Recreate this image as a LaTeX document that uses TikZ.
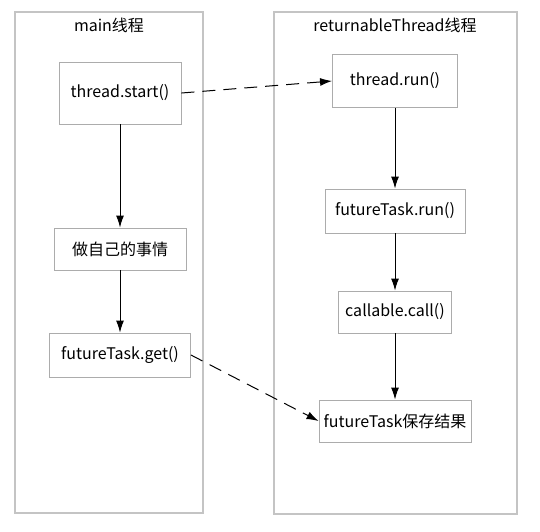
\documentclass[tikz,border=0pt]{standalone}
\usepackage{fontspec}
\setmainfont{Noto Sans CJK SC}
\usetikzlibrary{positioning,arrows.meta}
\definecolor{lanegray}{HTML}{C4C4C4}
\definecolor{boxgray}{HTML}{ACACAC}
\tikzset{
  lane/.style={draw=lanegray,line width=1.1pt,inner sep=0pt},
  title/.style={inner sep=0pt},
  box/.style={draw=boxgray,line width=0.9pt,minimum height=42pt,inner sep=0pt},
  flow/.style={->,line width=1pt},
  call/.style={->,line width=1pt,dash pattern=on 13pt off 8pt}
}
\begin{document}
\begin{tikzpicture}[x=1pt,y=-1pt,>={Latex[length=12pt,width=8pt]},on grid,
  font=\fontsize{16}{19}\selectfont]
\useasboundingbox (0,0) rectangle (540,531);
% lanes
\node[lane,minimum width=188pt,minimum height=501pt] (mainlane) at (109,262.5) {};
\node[lane,minimum width=243pt,minimum height=502pt] (worklane) at (395.5,263) {};
\node[title] (maintitle) at (109,25) {main线程};
\node[title] (worktitle) at (395,25) {returnableThread线程};
% main thread
\node[box,minimum width=122pt,minimum height=62pt] (start) at (120,93) {thread.start()};
\node[box,minimum width=132pt] (self) [below=156pt of start] {做自己的事情};
\node[box,minimum width=141pt,minimum height=44pt] (get) [below=106pt of self] {futureTask.get()};
% returnable thread
\node[box,minimum width=125pt,minimum height=53pt] (run) at (395,81) {thread.run()};
\node[box,minimum width=140pt,minimum height=44pt] (taskrun) [below=130pt of run] {futureTask.run()};
\node[box,minimum width=113pt] (callme) [below=101pt of taskrun] {callable.call()};
\node[box,minimum width=152pt] (save) [below=109pt of callme] {futureTask保存结果};

\path (start) edge[flow] (self)
      (self) edge[flow] (get)
      (run) edge[flow] (taskrun)
      (taskrun) edge[flow] (callme)
      (callme) edge[flow] (save)
      (start.east) edge[call] (run.west)
      (get.east) edge[call] (save.west);
\end{tikzpicture}
\end{document}
